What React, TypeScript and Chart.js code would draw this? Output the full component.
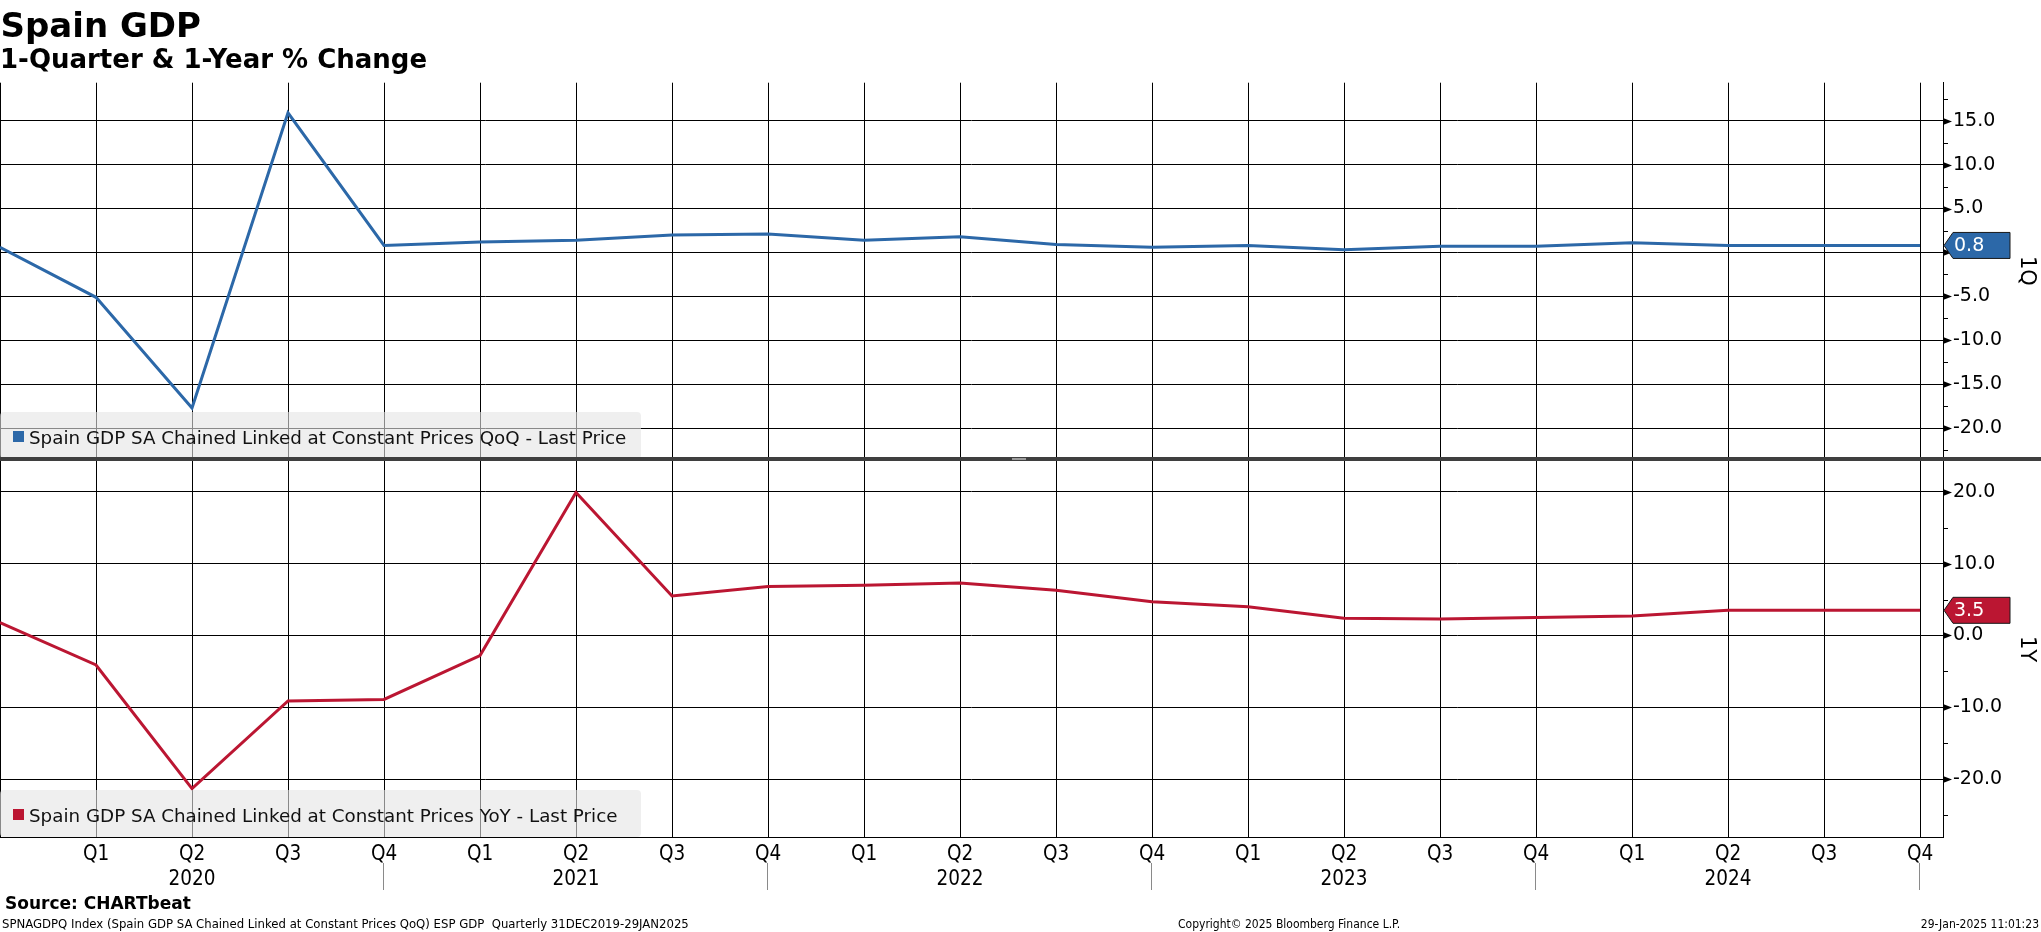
import React, { useEffect, useRef } from 'react';
import { Chart, registerables } from 'chart.js';

Chart.register(...registerables);

// ---------------- data ----------------
const periods = [
  'Q4 2019', 'Q1 2020', 'Q2 2020', 'Q3 2020', 'Q4 2020',
  'Q1 2021', 'Q2 2021', 'Q3 2021', 'Q4 2021',
  'Q1 2022', 'Q2 2022', 'Q3 2022', 'Q4 2022',
  'Q1 2023', 'Q2 2023', 'Q3 2023', 'Q4 2023',
  'Q1 2024', 'Q2 2024', 'Q3 2024', 'Q4 2024',
];

const qoqValues = [
  0.6, -5.1, -17.7, 15.9, 0.8,
  1.2, 1.4, 2.0, 2.1,
  1.4, 1.8, 0.9, 0.6,
  0.8, 0.3, 0.7, 0.7,
  1.1, 0.8, 0.8, 0.8,
];

const yoyValues = [
  1.8, -4.1, -21.3, -9.1, -8.9,
  -2.8, 19.9, 5.5, 6.8,
  7.0, 7.3, 6.3, 4.7,
  4.0, 2.4, 2.3, 2.5,
  2.7, 3.5, 3.5, 3.5,
];

const qoqTickValues = [-22.5, -20, -17.5, -15, -12.5, -10, -7.5, -5, -2.5, 0, 2.5, 5, 7.5, 10, 12.5, 15, 17.5];
const qoqMajorTicks = [-20, -15, -10, -5, 0, 5, 10, 15];
const yoyTickValues = [-25, -20, -15, -10, -5, 0, 5, 10, 15, 20];
const yoyMajorTicks = [-20, -10, 0, 10, 20];

const qoqLegend = 'Spain GDP SA Chained Linked at Constant Prices QoQ - Last Price';
const yoyLegend = 'Spain GDP SA Chained Linked at Constant Prices YoY - Last Price';

const BLUE = '#2c68a8';
const RED = '#bb1632';

// ---------------- helpers ----------------
function xLabel(v: number): string | string[] {
  const i = Math.round(v);
  if (i <= 0 || i >= periods.length) return '';
  const [q, yr] = periods[i].split(' ');
  return q === 'Q2' ? [q, yr] : q;
}

type PanelCfg = {
  values: number[];
  color: string;
  legend: string;
  axisTitle: string;
  tickValues: number[];
  majorTicks: number[];
  yMin: number;
  yMax: number;
  padTop: number;
  padBottom: number;
  showX: boolean;
};

function buildChart(canvas: HTMLCanvasElement, cfg: PanelCfg) {
  const isMajor = (v: number) => cfg.majorTicks.some((m) => Math.abs(m - v) < 1e-6);
  const pts = cfg.values.map((v, i) => ({ x: i, y: v }));

  const overlay = {
    id: 'overlay',
    afterDraw(chart: any) {
      const ctx = chart.ctx as CanvasRenderingContext2D;
      const ys = chart.scales.y;
      const xs = chart.scales.x;
      const area = chart.chartArea;
      ctx.save();

      // tick marks on the right axis
      ctx.fillStyle = '#000';
      ctx.strokeStyle = '#000';
      ctx.lineWidth = 1;
      for (const t of ys.ticks) {
        const py = Math.round(ys.getPixelForValue(t.value)) + 0.5;
        if (isMajor(t.value)) {
          ctx.beginPath();
          ctx.moveTo(area.right, py - 3.5);
          ctx.lineTo(area.right + 9, py);
          ctx.lineTo(area.right, py + 3.5);
          ctx.closePath();
          ctx.fill();
        } else {
          ctx.beginPath();
          ctx.moveTo(area.right, py);
          ctx.lineTo(area.right + 5, py);
          ctx.stroke();
        }
      }

      // year separators under the x labels
      if (cfg.showX) {
        ctx.strokeStyle = '#8a8a8a';
        ctx.lineWidth = 1;
        periods.forEach((p, i) => {
          if (i > 0 && p.startsWith('Q4')) {
            const px = Math.round(xs.getPixelForValue(i)) - 0.5;
            ctx.beginPath();
            ctx.moveTo(px, area.bottom + 26);
            ctx.lineTo(px, area.bottom + 53);
            ctx.stroke();
          }
        });
      }

      // legend box
      const boxTop = area.bottom - 47;
      ctx.fillStyle = 'rgba(228,228,228,0.6)';
      ctx.beginPath();
      (ctx as any).roundRect(0, boxTop, 641, 47, 4);
      ctx.fill();
      ctx.fillStyle = cfg.color;
      ctx.fillRect(13, boxTop + 19, 11, 11);
      ctx.fillStyle = '#111';
      ctx.font = '18.3px "DejaVu Sans"';
      ctx.textAlign = 'left';
      ctx.textBaseline = 'alphabetic';
      ctx.fillText(cfg.legend, 29, boxTop + 31.7);

      // last value tag
      const last = cfg.values[cfg.values.length - 1];
      const ly = ys.getPixelForValue(last);
      const x0 = area.right + 1;
      ctx.beginPath();
      ctx.moveTo(x0, ly);
      ctx.lineTo(x0 + 9, ly - 13);
      ctx.lineTo(2010, ly - 13);
      ctx.lineTo(2010, ly + 13);
      ctx.lineTo(x0 + 9, ly + 13);
      ctx.closePath();
      ctx.fillStyle = cfg.color;
      ctx.fill();
      ctx.strokeStyle = '#1a1a1a';
      ctx.lineWidth = 1;
      ctx.stroke();
      ctx.fillStyle = '#fff';
      ctx.font = '19px "DejaVu Sans"';
      ctx.textBaseline = 'middle';
      ctx.fillText(last.toFixed(1), x0 + 10, ly + 1);

      // rotated axis title
      ctx.translate(2026, (area.top + area.bottom) / 2);
      ctx.rotate(Math.PI / 2);
      ctx.fillStyle = '#000';
      ctx.font = '21px "DejaVu Sans"';
      ctx.textAlign = 'center';
      ctx.textBaseline = 'middle';
      ctx.fillText(cfg.axisTitle, 0, 0);

      ctx.restore();
    },
  };

  return new Chart(canvas, {
    type: 'line',
    data: {
      datasets: [
        {
          data: pts,
          borderColor: cfg.color,
          borderWidth: 3,
          pointRadius: 0,
          tension: 0,
          fill: false,
        },
      ],
    },
    options: {
      animation: false,
      responsive: false,
      maintainAspectRatio: false,
      devicePixelRatio: 1,
      layout: { padding: { top: cfg.padTop, bottom: cfg.padBottom, left: 0, right: 0 } },
      plugins: {
        legend: { display: false },
        tooltip: { enabled: false },
        title: { display: false },
      },
      scales: {
        x: {
          type: 'linear',
          position: 'bottom',
          min: 0,
          max: 1943 / 96,
          afterBuildTicks: (s: any) => {
            s.ticks = periods.map((_, i) => ({ value: i }));
          },
          afterFit: (s: any) => {
            s.height = cfg.showX ? 95 : 0;
            s.paddingLeft = 0;
            s.paddingRight = 0;
          },
          grid: { color: '#000', lineWidth: 1, drawTicks: false },
          border: { display: cfg.showX, color: '#000', width: 1 },
          ticks: {
            display: cfg.showX,
            autoSkip: false,
            maxRotation: 0,
            minRotation: 0,
            padding: 5,
            color: '#000',
            font: { family: 'DejaVu Sans Condensed', size: 20.5, lineHeight: 1.234 },
            callback: (v: any) => xLabel(Number(v)),
          },
        },
        y: {
          type: 'linear',
          position: 'right',
          min: cfg.yMin,
          max: cfg.yMax,
          afterBuildTicks: (s: any) => {
            s.ticks = cfg.tickValues.map((v) => ({ value: v }));
          },
          afterFit: (s: any) => {
            s.width = 98;
          },
          grid: {
            drawTicks: false,
            lineWidth: 1,
            color: (c: any) => (c.tick && isMajor(c.tick.value) ? '#000' : 'rgba(0,0,0,0)'),
          },
          border: { display: true, color: '#000', width: 1 },
          ticks: {
            autoSkip: false,
            padding: 10,
            color: '#000',
            font: { family: 'DejaVu Sans', size: 19, lineHeight: 1 },
            callback: (v: any) => (isMajor(Number(v)) ? Number(v).toFixed(1) : ''),
          },
        },
      },
    },
    plugins: [overlay],
  } as any);
}

// ---------------- component ----------------
export default function App() {
  const topRef = useRef<HTMLCanvasElement>(null);
  const botRef = useRef<HTMLCanvasElement>(null);

  useEffect(() => {
    document.body.style.margin = '0';
    const top = buildChart(topRef.current!, {
      values: qoqValues,
      color: BLUE,
      legend: qoqLegend,
      axisTitle: '1Q',
      tickValues: qoqTickValues,
      majorTicks: qoqMajorTicks,
      yMin: -23.5,
      yMax: 19.32,
      padTop: 82.7,
      padBottom: 31,
      showX: false,
    });
    const bot = buildChart(botRef.current!, {
      values: yoyValues,
      color: RED,
      legend: yoyLegend,
      axisTitle: '1Y',
      tickValues: yoyTickValues,
      majorTicks: yoyMajorTicks,
      yMin: -28.03,
      yMax: 24.27,
      padTop: 31,
      padBottom: 0,
      showX: true,
    });
    return () => {
      top.destroy();
      bot.destroy();
    };
  }, []);

  const abs: React.CSSProperties = { position: 'absolute', whiteSpace: 'pre', margin: 0 };

  return (
    <div style={{ position: 'relative', width: 2041, height: 932, overflow: 'hidden', background: '#fff' }}>
      <canvas
        ref={botRef}
        width={2041}
        height={502}
        style={{ position: 'absolute', left: 0, top: 430, width: 2041, height: 502 }}
      />
      <canvas
        ref={topRef}
        width={2041}
        height={490}
        style={{ position: 'absolute', left: 0, top: 0, width: 2041, height: 490 }}
      />
      <div style={{ ...abs, left: 0, top: 457.3, width: 2041, height: 4, background: '#3f3f3f' }} />
      <div style={{ ...abs, left: 1012, top: 458.3, width: 14, height: 2, background: '#9c9c9c' }} />

      <div
        style={{
          ...abs,
          left: 0.5,
          top: 7.9,
          font: 'bold 34px/34px "DejaVu Sans"',
          color: '#000',
        }}
      >
        Spain GDP
      </div>
      <div
        style={{
          ...abs,
          left: 0,
          top: 46.3,
          font: 'bold 26px/26px "DejaVu Sans"',
          color: '#000',
        }}
      >
        1-Quarter &amp; 1-Year % Change
      </div>

      <div style={{ ...abs, left: 5, top: 894.6, font: 'bold 17px/17px "DejaVu Sans"', color: '#000' }}>
        Source: CHARTbeat
      </div>
      <div style={{ ...abs, left: 2, top: 917, font: '13px/13px "DejaVu Sans Condensed"', color: '#000' }}>
        SPNAGDPQ Index (Spain GDP SA Chained Linked at Constant Prices QoQ) ESP GDP  Quarterly 31DEC2019-29JAN2025
      </div>
      <div style={{ ...abs, left: 1178, top: 917.9, font: '12px/12px "DejaVu Sans Condensed"', color: '#000' }}>
        Copyright© 2025 Bloomberg Finance L.P.
      </div>
      <div style={{ ...abs, right: 2, top: 917.9, font: '12px/12px "DejaVu Sans Condensed"', color: '#000' }}>
        29-Jan-2025 11:01:23
      </div>
    </div>
  );
}
